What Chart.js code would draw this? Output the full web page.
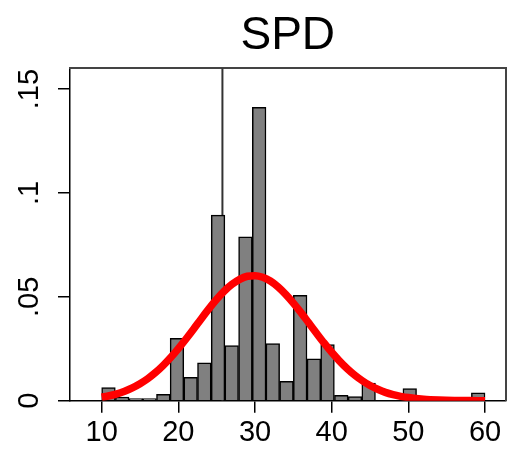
<!DOCTYPE html>
<html>
<head>
<meta charset="utf-8">
<script src="https://cdn.jsdelivr.net/npm/chart.js@4.4.0/dist/chart.umd.min.js"></script>
<style>
html,body{margin:0;padding:0;background:#fff;}
canvas{display:block;}
</style>
</head>
<body>
<canvas id="c" width="508" height="449"></canvas>
<script>
// ---- data ----
const titleText = "SPD";
const binCenters = [10.89, 12.68, 14.46, 16.25, 18.04, 19.82, 21.61, 23.39, 25.18, 26.96,
                    28.75, 30.54, 32.32, 34.11, 35.89, 37.68, 39.46, 41.25, 43.04, 44.82,
                    46.61, 48.39, 50.18, 51.96, 53.75, 55.54, 57.32, 59.11];
const binDensity = [0.0063, 0.0018, 0.0010, 0.0010, 0.0031, 0.0300, 0.0112, 0.0182, 0.0893, 0.0265,
                    0.0789, 0.1412, 0.0275, 0.0093, 0.0507, 0.0202, 0.0270, 0.0026, 0.0020, 0.0085,
                    0, 0, 0.0058, 0, 0, 0, 0, 0.0038];
const curveX = [10,11,12,13,14,15,16,17,18,19,20,21,22,23,24,25,26,27,28,29,30,31,32,33,34,35,
                36,37,38,39,40,41,42,43,44,45,46,47,48,49,50,52,54,56,58,60];
const curveY = [0.0017,0.0024,0.0033,0.0046,0.0062,0.0082,0.0106,0.0135,0.0169,0.0208,0.0251,
                0.0297,0.0345,0.0395,0.0443,0.0488,0.0528,0.0560,0.0584,0.0599,0.0602,0.0594,
                0.0576,0.0548,0.0512,0.0470,0.0424,0.0375,0.0326,0.0278,0.0233,0.0192,0.0155,
                0.0123,0.0096,0.0073,0.0055,0.0040,0.0029,0.0021,0.0015,0.0007,0.0003,0.0001,
                0.00004,0.00001];
const vlineX = 25.75;
const xTicks = [10, 20, 30, 40, 50, 60];
const xTickLabels = ["10", "20", "30", "40", "50", "60"];
const yTicks = [0, 0.05, 0.1, 0.15];
const yTickLabels = ["0", ".05", ".1", ".15"];
const xMin = 5.87, xMax = 62.67, yMin = 0, yMax = 0.16;

const FONT = "'Liberation Sans', Arial, Helvetica, sans-serif";

const histData = binCenters.map((x, i) => ({x: x, y: binDensity[i]}));
const curveData = curveX.map((x, i) => ({x: x, y: curveY[i]}));
const vlineData = [{x: vlineX, y: yMin}, {x: vlineX, y: yMax}];

new Chart(document.getElementById('c'), {
  data: {
    datasets: [
      {
        type: 'line',
        data: curveData,
        borderColor: '#ff0000',
        borderWidth: 7.5,
        pointRadius: 0,
        cubicInterpolationMode: 'monotone',
        fill: false,
        order: 0
      },
      {
        type: 'bar',
        data: histData,
        backgroundColor: '#808080',
        borderColor: '#000000',
        borderWidth: 1.5,
        barPercentage: 1.0,
        categoryPercentage: 1.0,
        order: 1
      },
      {
        type: 'line',
        data: vlineData,
        borderColor: '#333333',
        borderWidth: 2,
        pointRadius: 0,
        fill: false,
        order: 2
      }
    ]
  },
  options: {
    responsive: false,
    animation: false,
    devicePixelRatio: 1,
    layout: {padding: {left: 0, right: 2.5, top: 0, bottom: 0}},
    plugins: {
      legend: {display: false},
      tooltip: {enabled: false},
      title: {
        display: true,
        text: titleText,
        fullSize: false,
        color: '#000',
        font: {family: FONT, size: 46, weight: 'normal', lineHeight: 1.2},
        padding: {top: 9, bottom: 4.1}
      }
    },
    scales: {
      x: {
        type: 'linear',
        position: 'bottom',
        offset: false,
        min: xMin, max: xMax,
        afterBuildTicks: s => { s.ticks = xTicks.map(v => ({value: v})); },
        afterFit: s => { s.height = 48.3; },
        ticks: {
          autoSkip: false,
          maxRotation: 0, minRotation: 0,
          padding: 3,
          color: '#000',
          font: {family: FONT, size: 29},
          callback: (v) => { const i = xTicks.indexOf(v); return i >= 0 ? xTickLabels[i] : ''; }
        },
        grid: {display: true, offset: false, drawOnChartArea: false, drawTicks: true, tickLength: 12, color: '#000', lineWidth: 1.5},
        border: {display: true, color: '#000', width: 1.5}
      },
      y: {
        type: 'linear',
        position: 'left',
        min: yMin, max: yMax,
        afterBuildTicks: s => { s.ticks = yTicks.map(v => ({value: v})); },
        afterFit: s => { s.width = 70; },
        ticks: {
          autoSkip: false,
          minRotation: 90, maxRotation: 90,
          crossAlign: 'center',
          padding: 8,
          color: '#000',
          font: {family: FONT, size: 29},
          callback: (v) => { const i = yTicks.indexOf(v); return i >= 0 ? yTickLabels[i] : ''; }
        },
        grid: {display: true, drawOnChartArea: false, drawTicks: true, tickLength: 12, color: '#000', lineWidth: 1.5},
        border: {display: true, color: '#000', width: 1.5}
      },
      x2: {
        type: 'linear',
        position: 'top',
        offset: false,
        min: xMin, max: xMax,
        afterFit: s => { s.height = 0; },
        ticks: {display: false},
        grid: {display: false, offset: false},
        border: {display: true, color: '#444', width: 2}
      },
      y2: {
        type: 'linear',
        position: 'right',
        min: yMin, max: yMax,
        afterFit: s => { s.width = 0; },
        ticks: {display: false},
        grid: {display: false},
        border: {display: true, color: '#444', width: 2}
      }
    }
  }
});
</script>
</body>
</html>
